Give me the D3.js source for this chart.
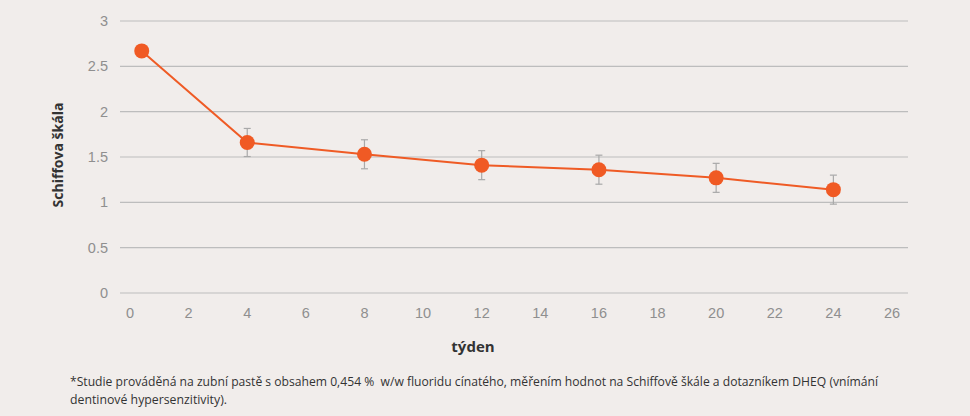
<!DOCTYPE html>
<html><head><meta charset="utf-8">
<script src="https://cdn.jsdelivr.net/npm/d3@7"></script>
<style>html,body{margin:0;padding:0;background:#f1edeb;}svg{display:block;}</style>
</head><body>
<svg id="c" width="970" height="416"></svg>
<script>
const weeks = [0.4, 4, 8, 12, 16, 20, 24];
const values = [2.67, 1.66, 1.53, 1.41, 1.36, 1.27, 1.14];
const errors = [null, 0.155, 0.16, 0.16, 0.16, 0.16, 0.16];
const xTicks = [0,2,4,6,8,10,12,14,16,18,20,22,24,26];
const yTicks = [0,0.5,1,1.5,2,2.5,3];
const yTitle = "Schiffova škála";
const xTitle = "týden";
const note1 = "*Studie prováděná na zubní pastě s obsahem 0,454 %  w/w fluoridu cínatého, měřením hodnot na Schiffově škále a dotazníkem DHEQ (vnímání";
const note2 = "dentinové hypersenzitivity).";

const svg = d3.select("#c");
svg.append("rect").attr("width",970).attr("height",416).attr("fill","#f1edeb");
const x = d3.scaleLinear().domain([0,26]).range([130,892]);
const y = d3.scaleLinear().domain([0,3]).range([293,21]);
const gridL = 120, gridR = 908;

const g = svg.append("g");
g.selectAll("line.grid").data(yTicks).join("line")
  .attr("x1",gridL).attr("x2",gridR)
  .attr("y1",d=>y(d)).attr("y2",d=>y(d))
  .attr("stroke","#bdbdbd").attr("stroke-width",1.2);

const tickFont = "Liberation Sans, Arial, sans-serif";
g.selectAll("text.yt").data(yTicks).join("text")
  .attr("x",108).attr("y",d=>y(d)+5)
  .attr("text-anchor","end").attr("font-family",tickFont).attr("font-size",14.5)
  .attr("fill","#8f8f8f").text(d=>d);
g.selectAll("text.xt").data(xTicks).join("text")
  .attr("x",d=>x(d)).attr("y",318)
  .attr("text-anchor","middle").attr("font-family",tickFont).attr("font-size",14.5)
  .attr("fill","#8f8f8f").text(d=>d);

const pts = weeks.map((w,i)=>({w,v:values[i],e:errors[i]}));
const eb = g.selectAll("g.eb").data(pts.filter(p=>p.e!=null)).join("g");
eb.append("line").attr("x1",p=>x(p.w)).attr("x2",p=>x(p.w))
  .attr("y1",p=>y(p.v+p.e)).attr("y2",p=>y(p.v-p.e)).attr("stroke","#a9a9a9").attr("stroke-width",1.2);
eb.append("line").attr("x1",p=>x(p.w)-3.5).attr("x2",p=>x(p.w)+3.5)
  .attr("y1",p=>y(p.v+p.e)).attr("y2",p=>y(p.v+p.e)).attr("stroke","#a9a9a9").attr("stroke-width",1.2);
eb.append("line").attr("x1",p=>x(p.w)-3.5).attr("x2",p=>x(p.w)+3.5)
  .attr("y1",p=>y(p.v-p.e)).attr("y2",p=>y(p.v-p.e)).attr("stroke","#a9a9a9").attr("stroke-width",1.2);

const line = d3.line().x(p=>x(p.w)).y(p=>y(p.v));
g.append("path").datum(pts).attr("d",line).attr("fill","none")
  .attr("stroke","#ef5b25").attr("stroke-width",2);
g.selectAll("circle").data(pts).join("circle")
  .attr("cx",p=>x(p.w)).attr("cy",p=>y(p.v)).attr("r",7.5).attr("fill","#f05a24");

const titleFont = "'Open Sans', 'Noto Sans', sans-serif";
svg.append("text").attr("transform","translate(63,155) rotate(-90)")
  .attr("text-anchor","middle").attr("font-family",titleFont).attr("font-weight","bold")
  .attr("font-size",14).attr("fill","#333").text(yTitle);
svg.append("text").attr("x",473).attr("y",352).attr("text-anchor","middle")
  .attr("font-family",titleFont).attr("font-weight","bold").attr("font-size",15)
  .attr("fill","#333").text(xTitle);
svg.append("text").attr("x",70).attr("y",386).attr("font-family",titleFont)
  .style("white-space","pre")
  .attr("font-size",12).attr("fill","#333").attr("textLength",808).attr("lengthAdjust","spacingAndGlyphs").text(note1);
svg.append("text").attr("x",70).attr("y",404).attr("font-family",titleFont)
  .attr("font-size",12).attr("fill","#333").attr("textLength",157).attr("lengthAdjust","spacingAndGlyphs").text(note2);
</script>
</body></html>
